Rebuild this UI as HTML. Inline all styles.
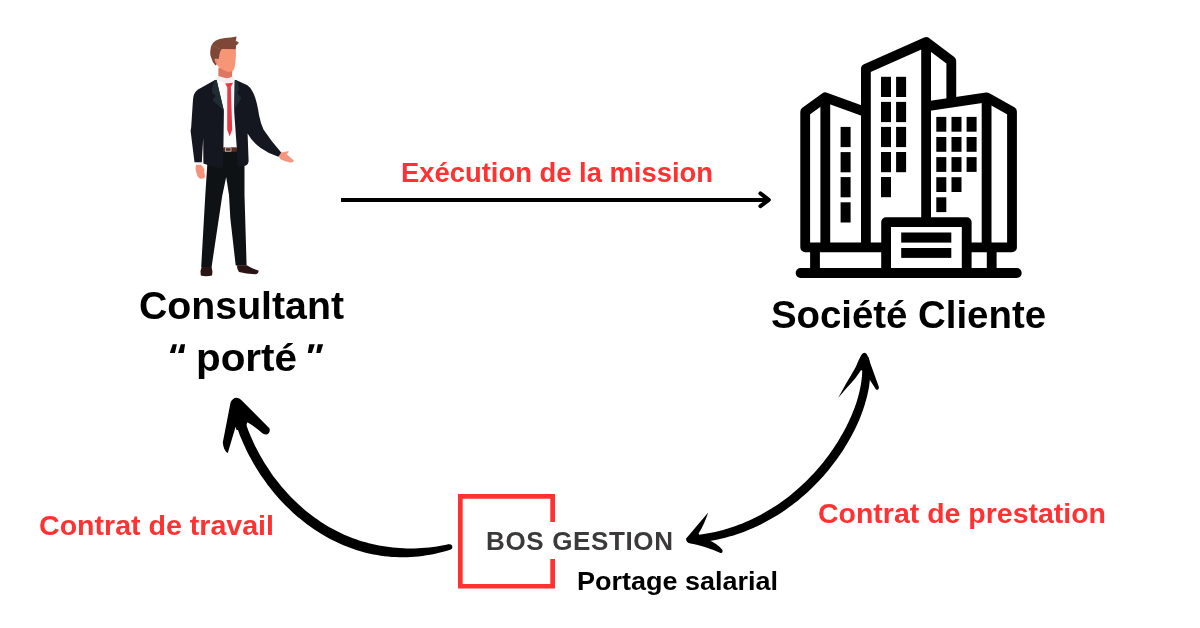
<!DOCTYPE html>
<html><head><meta charset="utf-8">
<style>
html,body{margin:0;padding:0;background:#fff;}
body{width:1200px;height:628px;overflow:hidden;position:relative;}
svg{position:absolute;left:0;top:0;}
text{font-family:"Liberation Sans",sans-serif;font-weight:bold;-webkit-font-smoothing:antialiased;}
</style></head>
<body>
<svg width="1200" height="628" viewBox="0 0 1200 628" style="will-change:transform">
<!-- texts -->
<text x="401" y="182" font-size="27" fill="#ff3131" textLength="312" lengthAdjust="spacingAndGlyphs">Exécution de la mission</text>
<text x="139" y="319" font-size="38" fill="#000" textLength="205" lengthAdjust="spacingAndGlyphs">Consultant</text>
<text x="196" y="371" font-size="38" fill="#000" textLength="101" lengthAdjust="spacingAndGlyphs">porté</text>
<path fill="#000" d="M172.7 344.3 L176.9 344.3 L174.9 353.1 L169.8 353.1 Z M180.8 344.3 L185.1 344.3 L183.7 353.1 L178.1 353.1 Z M309.2 344.3 L314.8 344.3 L311.9 353.1 L307.8 353.1 Z M317.8 344.3 L323.2 344.3 L320.4 353.1 L316.3 353.1 Z"/>
<text x="771" y="328" font-size="38" fill="#000" textLength="275" lengthAdjust="spacingAndGlyphs">Société Cliente</text>
<text x="39" y="535" font-size="27" fill="#ff3131" textLength="235" lengthAdjust="spacingAndGlyphs">Contrat de travail</text>
<text x="818" y="523" font-size="27" fill="#ff3131" textLength="288" lengthAdjust="spacingAndGlyphs">Contrat de prestation</text>
<text x="486" y="550" font-size="26" fill="#3b3939" textLength="187" lengthAdjust="spacing">BOS GESTION</text>
<text x="577" y="590" font-size="26" fill="#000" textLength="201" lengthAdjust="spacingAndGlyphs">Portage salarial</text>

<!-- red logo square -->
<path d="M552.65 522 V496.35 H460.35 V586.25 H552.65 V559" fill="none" stroke="#ff3131" stroke-width="4.7"/>

<!-- straight arrow -->
<g stroke="#000" stroke-width="4" fill="none" stroke-linecap="round" stroke-linejoin="round">
<path d="M341 200 H768" stroke-linecap="butt"/>
<path d="M760.4 193.4 L768.8 199.8 L760.4 206.1"/>
</g>

<g>
<!-- pants -->
<path fill="#0e1215" d="M203.6 160 L207.3 164.5 L205.3 195 L201.2 266.9 L211.6 266.9 L222.2 196 L226.2 177 L229 195 L230.3 218 L235.7 265.6 L246.6 265.6 L244.5 195 L244.5 160 Z"/>
<!-- shoes -->
<path fill="#2b1414" d="M201.6 267 L211.6 267 Q213 272 212 275.5 Q206 277 200.8 275.5 Q199.8 271 201.6 267 Z"/>
<path fill="#2b1414" d="M237.2 265.2 L246.8 265.2 Q252 268.5 258.5 270.5 Q259 273.5 255 274.3 Q246 274 239 272 Q236.5 269 237.2 265.2 Z"/>
<!-- left hand -->
<path fill="#f5937a" d="M196.2 164.8 L200.6 164.6 Q202.2 165.8 202.8 166.8 L204.8 170.1 L204 171 L205.1 176.3 Q204.6 178 203.4 178.5 L200.1 178.8 Q198.6 177.8 197.6 176.3 L195.9 171.2 Q195.4 169 195.6 167.3 Z"/>
<!-- right hand -->
<path fill="#f5977f" d="M278.5 152.8 Q283 152.5 286 151.6 Q289 150.8 289 151.8 Q288 153.2 286.5 154.2 Q291 157.5 293.8 160.5 Q293.5 162.8 290 162.6 Q285 161.5 281 159.5 Q278.5 158 278.5 152.8 Z"/>
<!-- cuff -->
<path fill="#f4f4f4" d="M195.4 161.8 L203.6 161.8 L203.6 164.6 L195.6 164.6 Z"/>
<!-- jacket -->
<path fill="#14171f" d="M215 80 L198 89.5 Q193.5 92.5 193 99.5 L191.2 127 L190.6 131 L194.5 162.3 L201.8 162.3 L203.2 138 L203.4 163.4 Q213 167.5 222.9 168.6 Q234 168 245.2 165.8 Q248.5 164.5 248.6 161 L247.6 133.5 Q252.5 142.5 260.7 147.9 Q269 153.8 278.4 156.8 L281.2 152.4 Q271 141 263.5 129.5 Q260.5 123 259 115 Q256.5 98 252.5 91.5 Q250.5 87.5 247.4 85.3 L236 80 Z"/>
<!-- shirt -->
<path fill="#fbfbfb" d="M216.2 79 L235 79 L234.2 112 L236.8 148 L223.4 148 L223.9 111 Z"/>
<!-- lapels -->
<path fill="#212b33" d="M214.6 80.2 L216.6 79.6 L223.9 110.8 L212.6 100.3 L215.6 95.8 L212.4 93.6 L211.9 88.5 Z"/>
<path fill="#212b33" d="M234.6 80.2 L237.2 81 L239.2 88.5 L237.6 93.3 L241.4 97.9 L234.2 110 Z"/>
<!-- collar -->
<path fill="#f0f0f0" d="M217.2 75.6 Q225 77.5 232.4 75.4 L235 79.8 L226.3 83.6 L215.4 79.6 Z"/>
<!-- neck -->
<path fill="#dd7761" d="M218.4 67.5 L232.4 70 L232 76.5 Q229.5 78.5 226.5 78.3 Q221 77 218.4 76 Z"/>
<!-- tie -->
<path fill="#e63a48" d="M225.1 83.5 L233 82.7 L230.9 87.2 L232.2 129.5 L229.7 136.4 L227.2 129.5 L227.3 87.2 Z"/>
<!-- opening -->
<path fill="#0e1215" d="M223.4 150 L236.8 150 L237.6 167.6 L222.9 168.6 Z"/>
<!-- belt -->
<rect x="223.4" y="147.3" width="13.4" height="4.4" fill="#5a2c22"/>
<rect x="225.4" y="147.8" width="5.6" height="3.4" fill="none" stroke="#cfc5c0" stroke-width="0.8"/>
<!-- face -->
<path fill="#f79677" d="M220 49 L235.8 49 Q236.3 56 235.6 60 Q235.2 65 234.6 67.5 Q233.8 70 232.6 70.8 Q230.5 72 228.6 71.9 Q224 70.8 220.8 68.6 Q218.2 66.5 217 64.7 Q215 63.5 214.5 60.5 Q214.6 58.6 216.2 58.8 L218.6 59.3 Q219.5 54 220 49 Z"/>
<path fill="#e0806a" d="M215.2 59.6 Q216.8 59.3 217.6 61 Q217.4 63 216.8 63.8 Q215.2 62.5 215.2 59.6 Z" opacity="0.6"/>
<!-- hair -->
<path fill="#7f4836" d="M236.5 36.4 Q236.4 39 235.7 40.8 L238.9 42.4 Q237.8 44.5 236.1 45.5 L235.8 49.2 Q229 48.8 222.1 49.1 Q220.5 50 220.1 51.9 Q219.5 54 219.3 55.9 L218.6 59.3 Q216.5 58.4 214.6 59 Q214.8 62.5 216.8 64.3 L215.4 65.5 Q212.4 62.5 211.4 58.3 Q209.9 55 210.2 51.9 Q210.4 48 211.4 45.5 Q213 42.5 215.4 40.8 Q219 38.8 224.9 38 Q231 37.4 236.5 36.4 Z"/>
<path d="M211.9 45.6 Q216.5 47.2 220.6 49.7" stroke="#9a5a44" stroke-width="0.7" fill="none"/>
</g>

<!-- curved arrows -->
<g fill="#000">
<path d="M234.4 419.4 L235.4 422.5 L236.4 425.6 L237.4 428.7 L238.6 431.8 L239.7 434.9 L241.0 438.0 L242.3 441.0 L243.6 444.1 L245.0 447.1 L246.4 450.2 L247.9 453.2 L249.5 456.2 L251.1 459.1 L252.7 462.1 L254.4 465.0 L256.2 467.9 L258.0 470.8 L259.8 473.7 L261.7 476.5 L263.7 479.3 L265.7 482.1 L267.7 484.9 L269.8 487.6 L271.9 490.3 L274.1 492.9 L276.3 495.6 L278.6 498.2 L280.9 500.7 L283.3 503.2 L285.7 505.7 L288.2 508.1 L290.7 510.5 L293.2 512.9 L295.8 515.2 L298.4 517.4 L301.1 519.6 L303.8 521.8 L306.6 523.9 L309.4 526.0 L312.2 528.0 L315.1 529.9 L318.0 531.8 L321.0 533.7 L324.0 535.5 L327.0 537.2 L330.1 538.9 L333.2 540.5 L336.4 542.0 L339.6 543.5 L342.8 544.9 L346.1 546.3 L349.4 547.6 L352.8 548.8 L356.1 549.9 L359.6 551.0 L363.0 552.0 L366.5 552.9 L370.0 553.7 L373.6 554.5 L377.2 555.1 L380.8 555.7 L384.4 556.2 L388.1 556.6 L391.8 556.9 L395.6 557.1 L399.3 557.2 L403.1 557.3 L406.9 557.2 L410.8 557.0 L414.6 556.7 L418.5 556.4 L422.4 555.9 L426.3 555.3 L430.3 554.7 L434.2 553.9 L438.2 553.0 L442.2 552.0 L446.2 550.9 L450.2 549.7 L448.8 544.3 L444.8 545.1 L440.9 545.8 L436.9 546.4 L433.1 547.0 L429.2 547.4 L425.4 547.8 L421.6 548.1 L417.9 548.3 L414.2 548.4 L410.5 548.4 L406.9 548.4 L403.3 548.3 L399.7 548.1 L396.2 547.8 L392.7 547.5 L389.2 547.1 L385.7 546.6 L382.3 546.0 L378.9 545.4 L375.6 544.8 L372.2 544.0 L368.9 543.2 L365.7 542.3 L362.4 541.4 L359.2 540.4 L356.1 539.3 L352.9 538.2 L349.8 537.0 L346.7 535.7 L343.7 534.4 L340.7 533.0 L337.7 531.6 L334.8 530.1 L331.9 528.5 L329.0 526.9 L326.1 525.2 L323.3 523.5 L320.6 521.7 L317.9 519.8 L315.2 517.9 L312.5 516.0 L309.9 514.0 L307.3 511.9 L304.8 509.9 L302.3 507.7 L299.8 505.5 L297.4 503.3 L295.0 501.1 L292.7 498.8 L290.4 496.4 L288.1 494.0 L285.9 491.6 L283.7 489.1 L281.6 486.7 L279.5 484.1 L277.5 481.6 L275.5 479.0 L273.5 476.4 L271.6 473.7 L269.8 471.0 L268.0 468.3 L266.2 465.6 L264.5 462.9 L262.8 460.1 L261.2 457.3 L259.6 454.5 L258.0 451.6 L256.6 448.8 L255.1 445.9 L253.7 443.0 L252.4 440.1 L251.1 437.2 L249.9 434.3 L248.7 431.4 L247.6 428.4 L246.5 425.5 L245.5 422.5 L244.5 419.6 L243.6 416.6Z"/>
<circle cx="449.5" cy="547.0" r="2.8"/>
<path d="M861.3 358.7 L861.6 360.7 L861.9 362.8 L862.0 364.8 L862.2 367.0 L862.2 369.2 L862.2 371.4 L862.1 373.7 L862.0 376.1 L861.7 378.5 L861.4 380.9 L861.1 383.4 L860.6 386.0 L860.1 388.5 L859.6 391.1 L858.9 393.8 L858.2 396.5 L857.4 399.2 L856.6 401.9 L855.7 404.7 L854.7 407.5 L853.6 410.3 L852.5 413.1 L851.3 415.9 L850.0 418.8 L848.7 421.7 L847.3 424.6 L845.9 427.4 L844.4 430.3 L842.8 433.2 L841.1 436.1 L839.4 439.0 L837.7 441.9 L835.8 444.8 L833.9 447.7 L832.0 450.6 L829.9 453.4 L827.9 456.3 L825.7 459.1 L823.5 461.9 L821.2 464.7 L818.9 467.5 L816.5 470.2 L814.1 472.9 L811.6 475.6 L809.0 478.3 L806.4 480.9 L803.7 483.5 L801.0 486.1 L798.2 488.6 L795.3 491.1 L792.4 493.5 L789.5 495.9 L786.5 498.2 L783.4 500.5 L780.3 502.7 L777.1 504.9 L773.9 507.1 L770.6 509.1 L767.2 511.1 L763.8 513.1 L760.4 515.0 L756.9 516.8 L753.4 518.5 L749.8 520.2 L746.1 521.8 L742.4 523.4 L738.7 524.8 L734.9 526.2 L731.0 527.5 L727.1 528.7 L723.1 529.9 L719.1 530.9 L715.1 531.9 L711.0 532.8 L706.8 533.5 L702.6 534.2 L698.4 534.8 L694.1 535.3 L689.7 535.7 L690.3 543.3 L694.8 543.0 L699.3 542.5 L703.7 542.0 L708.1 541.3 L712.5 540.6 L716.8 539.7 L721.0 538.8 L725.2 537.8 L729.4 536.6 L733.5 535.4 L737.6 534.1 L741.5 532.7 L745.5 531.2 L749.4 529.6 L753.2 528.0 L757.0 526.2 L760.7 524.5 L764.4 522.6 L768.0 520.6 L771.6 518.6 L775.1 516.6 L778.6 514.4 L782.0 512.2 L785.3 510.0 L788.6 507.6 L791.8 505.3 L795.0 502.8 L798.1 500.4 L801.1 497.8 L804.1 495.3 L807.0 492.7 L809.9 490.0 L812.7 487.3 L815.4 484.6 L818.1 481.8 L820.7 479.0 L823.3 476.2 L825.8 473.3 L828.2 470.4 L830.5 467.5 L832.8 464.6 L835.1 461.6 L837.2 458.7 L839.3 455.7 L841.4 452.7 L843.4 449.7 L845.3 446.6 L847.1 443.6 L848.9 440.6 L850.6 437.5 L852.2 434.5 L853.8 431.5 L855.3 428.4 L856.7 425.4 L858.1 422.4 L859.4 419.4 L860.6 416.4 L861.7 413.4 L862.8 410.4 L863.8 407.4 L864.8 404.5 L865.6 401.6 L866.4 398.7 L867.2 395.8 L867.8 393.0 L868.4 390.2 L868.9 387.4 L869.3 384.7 L869.6 381.9 L869.9 379.3 L870.1 376.6 L870.2 374.0 L870.2 371.5 L870.2 369.0 L870.1 366.5 L869.9 364.1 L869.6 361.8 L869.2 359.5 L868.7 357.3Z"/>

<path d="M230.6 402.3 Q233 397.5 236.7 397.8 Q239.5 398 241.8 400.6 L269.6 428.5 Q270.5 433.5 266.5 434.6 Q264 434.6 262 433 Q255 426.5 247.3 422.3 L245 430 L236.5 430 L235.6 426.8 L227.8 453 Q223.5 450.5 222.8 442.4 Z"/>
<path d="M864.6 352.8 Q866.5 353 867.5 355.5 L878.9 387 Q879 390 876.5 389.8 Q875.5 389.2 875.1 388 L868.9 378.4 L866 372 L861 370 L862.1 368.6 Q859 373.5 855.1 378.6 Q851 383.5 846.4 388.3 L838.1 397.9 L846.4 383 Q851.5 374.5 856 366.4 Q858.5 360 861.3 355 Q862.8 352.8 864.6 352.8 Z"/>
<path d="M686.2 540.1 Q685.5 538 687.2 537.2 L708.2 512.4 Q704 525 698.6 533.4 L700 537 L708 536 L708.7 540.1 Q717 543.5 722.5 550 Q723 553.5 720.5 553 Q705 546 688.6 543 Q686.5 542 686.2 540.1 Z"/>
</g>
<!-- building -->
<g stroke="#000" stroke-width="9.8" fill="none" stroke-linejoin="round" stroke-linecap="butt">
<path d="M800.6 273 H1016.8" stroke-linecap="round"/>
<path d="M886.1 247.3 H805.2 V111.8 L825.3 97.3 L865.9 112.2"/>
<path d="M825.3 97.3 V247.3"/>
<path d="M815 247.3 V273"/>
<path d="M886.1 273 V222.2 H966.7 V273"/>
<path d="M865.9 247.3 V68.7 L926.1 42 L951.3 61 V102.5"/>
<path d="M926.1 42 V222.2"/>
<path d="M926.1 106.3 L986.6 97.3 L1012 111.5 V247.4 H966.7"/>
<path d="M986.6 97.3 V247.4"/>
<path d="M991.7 247.4 V273"/>
</g>
<g fill="#000">
<!-- left bldg windows -->
<rect x="840.6" y="126.9" width="10" height="20.2"/>
<rect x="840.6" y="152.1" width="10" height="20.2"/>
<rect x="840.6" y="177.1" width="10" height="20.2"/>
<rect x="840.6" y="202.3" width="10" height="20.2"/>
<!-- middle -->
<rect x="881" y="76.8" width="10" height="20.2"/>
<rect x="896.1" y="76.8" width="10" height="20.2"/>
<rect x="881" y="101.9" width="10" height="20.2"/>
<rect x="896.1" y="101.9" width="10" height="20.2"/>
<rect x="881" y="126.9" width="10" height="20.2"/>
<rect x="896.1" y="126.9" width="10" height="20.2"/>
<rect x="881" y="152" width="10" height="20.2"/>
<rect x="896.1" y="152" width="10" height="20.2"/>
<rect x="881" y="177" width="10" height="20.2"/>
<!-- right -->
<rect x="936.3" y="116.9" width="10" height="14.8"/>
<rect x="951.5" y="116.9" width="10" height="14.8"/>
<rect x="966.6" y="116.9" width="10" height="14.8"/>
<rect x="936.3" y="137" width="10" height="14.8"/>
<rect x="951.5" y="137" width="10" height="14.8"/>
<rect x="966.6" y="137" width="10" height="14.8"/>
<rect x="936.3" y="157.1" width="10" height="14.8"/>
<rect x="951.5" y="157.1" width="10" height="14.8"/>
<rect x="966.6" y="157.1" width="10" height="14.8"/>
<rect x="936.3" y="177.2" width="10" height="14.8"/>
<rect x="951.5" y="177.2" width="10" height="14.8"/>
<rect x="936.3" y="197.3" width="10" height="14.8"/>
<!-- entrance bars -->
<rect x="901.2" y="232.5" width="50.1" height="10.1"/>
<rect x="901.2" y="248" width="50.1" height="9.9"/>
</g>
</svg>
</body></html>
